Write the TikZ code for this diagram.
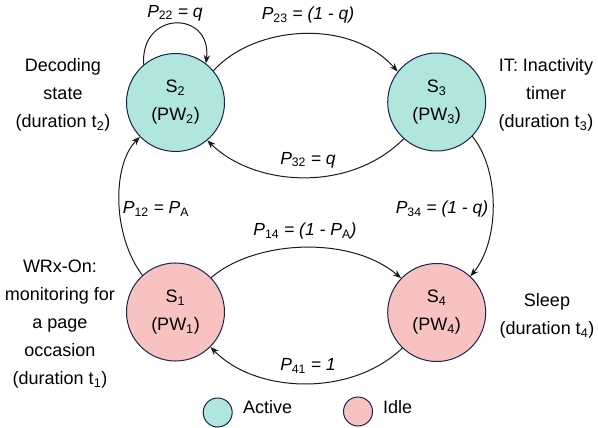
\documentclass[tikz,border=0pt]{standalone}
\usepackage{fontspec}
\setmainfont{Liberation Sans}
\usetikzlibrary{arrows.meta}
\definecolor{actF}{HTML}{B0E6DD}
\definecolor{idleF}{HTML}{F8C2C0}
\definecolor{ringD}{HTML}{1B2150}
\definecolor{arrC}{HTML}{1A1A1A}
\tikzset{
  state/.style={circle, draw=ringD, line width=1pt, minimum size=98pt, inner sep=0pt,
                align=center, font=\fontsize{18}{28}\selectfont},
  active/.style={state, fill=actF},
  idle/.style={state, fill=idleF},
  key/.style={circle, draw=ringD, line width=1pt, minimum size=29pt, inner sep=0pt},
  arr/.style={-{Stealth[length=8.5pt,width=6.5pt]}, draw=arrC, line width=1pt},
  lab/.style={font=\fontsize{17.5}{20}\selectfont\itshape, inner sep=1pt},
  note/.style={align=center, font=\fontsize{18}{28}\selectfont, inner sep=0pt},
}
\newcommand\pp[1]{\textit{P}\textsubscript{\upshape #1}}
\newcommand\st[1]{S\textsubscript{#1}\\(PW\textsubscript{#1})}

\begin{document}
\begin{tikzpicture}[x=1pt, y=-1pt]
\useasboundingbox (0,0) rectangle (598,428);
\node[active] (S2) at (175.5,102.5) {\st{2}};
\node[active] (S3) at (436.7,102) {\st{3}};
\node[idle] (S1) at (175.5,312) {\st{1}};
\node[idle] (S4) at (436.7,312.5) {\st{4}};
\node[note] (dec) at (63,95) {Decoding\\state\\(duration t\textsubscript{2})};
\node[note] (it) at (546,95) {IT: Inactivity\\timer\\(duration t\textsubscript{3})};
\node[note] (wrx) at (60,324) {WRx-On:\\monitoring for\\a page\\occasion\\(duration t\textsubscript{1})};
\node[note] (slp) at (547,316) {Sleep\\(duration t\textsubscript{4})};
\draw[arr] (S2.130) .. controls (140,10) and (212,10) .. (S2.52);
\draw[arr] (S2.40) .. controls (255,25) and (350,18) .. (S3.142);
\draw[arr] (S3.228) .. controls (350,193) and (255,187) .. (S2.310);
\draw[arr] (S1.132) .. controls (112,235) and (112,165) .. (S2.224);
\draw[arr] (S3.316) .. controls (500,170) and (500,240) .. (S4.47);
\draw[arr] (S1.44) .. controls (255,240) and (350,235) .. (S4.136);
\draw[arr] (S4.226) .. controls (350,398) and (255,393) .. (S1.315);
\node[lab] (p22) at (175,13) {\pp{22} = q};
\node[lab] (p23) at (308,15) {\pp{23} = (1 - q)};
\node[lab] (p32) at (308,160) {\pp{32} = q};
\node[lab] (p12) at (156,209) {\pp{12} = \pp{A}};
\node[lab] (p14) at (305,231) {\pp{14} = (1 - \pp{A})};
\node[lab] (p34) at (442,209) {\pp{34} = (1 - q)};
\node[lab] (p41) at (308,366) {\pp{41} = 1};
\node[key, fill=actF] (kact) at (217.7,412.5) {};
\node[note, anchor=west] (tact) at (243,407) {Active};
\node[key, fill=idleF] (kidle) at (358,411.5) {};
\node[note, anchor=west] (tidle) at (383,407) {Idle};
\end{tikzpicture}
\end{document}
